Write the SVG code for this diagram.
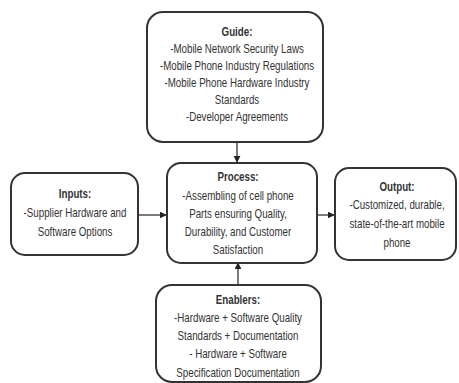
<svg xmlns="http://www.w3.org/2000/svg" width="459" height="383" viewBox="0 0 459 383">
<style>
.box{fill:#fff;stroke:#333;stroke-width:2}
text{font-family:"Liberation Sans",Arial,sans-serif;font-size:12.5px;fill:#333;text-anchor:middle}
.t{font-weight:bold}
.c{stroke:#333;stroke-width:1.3;fill:none}
</style>
<defs>
<marker id="ah" viewBox="0 0 10 10" refX="9" refY="5" markerWidth="7" markerHeight="7" markerUnits="userSpaceOnUse" orient="auto"><path d="M0,0L10,5L0,10z" fill="#222"/></marker>
</defs>
<rect width="459" height="383" fill="#fff"/>
<g id="connectors">
<line class="c" x1="237" y1="142" x2="237" y2="162" marker-end="url(#ah)"/>
<line class="c" x1="138" y1="215" x2="166" y2="215" marker-end="url(#ah)"/>
<line class="c" x1="317" y1="215" x2="334" y2="215" marker-end="url(#ah)"/>
<line class="c" x1="238" y1="285" x2="238" y2="263" marker-end="url(#ah)"/>
</g>
<g id="guide">
<rect class="box" x="147" y="12" width="176" height="130" rx="16"/>
<g transform="translate(237,0) scale(0.78,1)">
<text class="t" x="0" y="36">Guide:</text>
<text x="0" y="53">-Mobile Network Security Laws</text>
<text x="0" y="70">-Mobile Phone Industry Regulations</text>
<text x="0" y="87">-Mobile Phone Hardware Industry</text>
<text x="0" y="104">Standards</text>
<text x="0" y="121">-Developer Agreements</text>
</g>
</g>
<g id="inputs">
<rect class="box" x="11" y="173" width="127" height="82" rx="14"/>
<g transform="translate(75,0) scale(0.78,1)">
<text class="t" x="0" y="198">Inputs:</text>
<text x="0" y="217">-Supplier Hardware and</text>
<text x="0" y="236">Software Options</text>
</g>
</g>
<g id="process">
<rect class="box" x="167" y="163" width="150" height="100" rx="14"/>
<g transform="translate(238,0) scale(0.78,1)">
<text class="t" x="0" y="181">Process:</text>
<text x="0" y="200">-Assembling of cell phone</text>
<text x="0" y="218">Parts ensuring Quality,</text>
<text x="0" y="236">Durability, and Customer</text>
<text x="0" y="254">Satisfaction</text>
</g>
</g>
<g id="output">
<rect class="box" x="335" y="168" width="121" height="92" rx="14"/>
<g transform="translate(397,0) scale(0.78,1)">
<text class="t" x="0" y="191">Output:</text>
<text x="0" y="209">-Customized, durable,</text>
<text x="0" y="228">state-of-the-art mobile</text>
<text x="0" y="247">phone</text>
</g>
</g>
<g id="enablers">
<rect class="box" x="156" y="285" width="165" height="97" rx="16"/>
<g transform="translate(238,0) scale(0.78,1)">
<text class="t" x="0" y="304">Enablers:</text>
<text x="0" y="322">-Hardware + Software Quality</text>
<text x="0" y="340">Standards + Documentation</text>
<text x="0" y="358">- Hardware + Software</text>
<text x="0" y="377">Specification Documentation</text>
</g>
</g>
</svg>
